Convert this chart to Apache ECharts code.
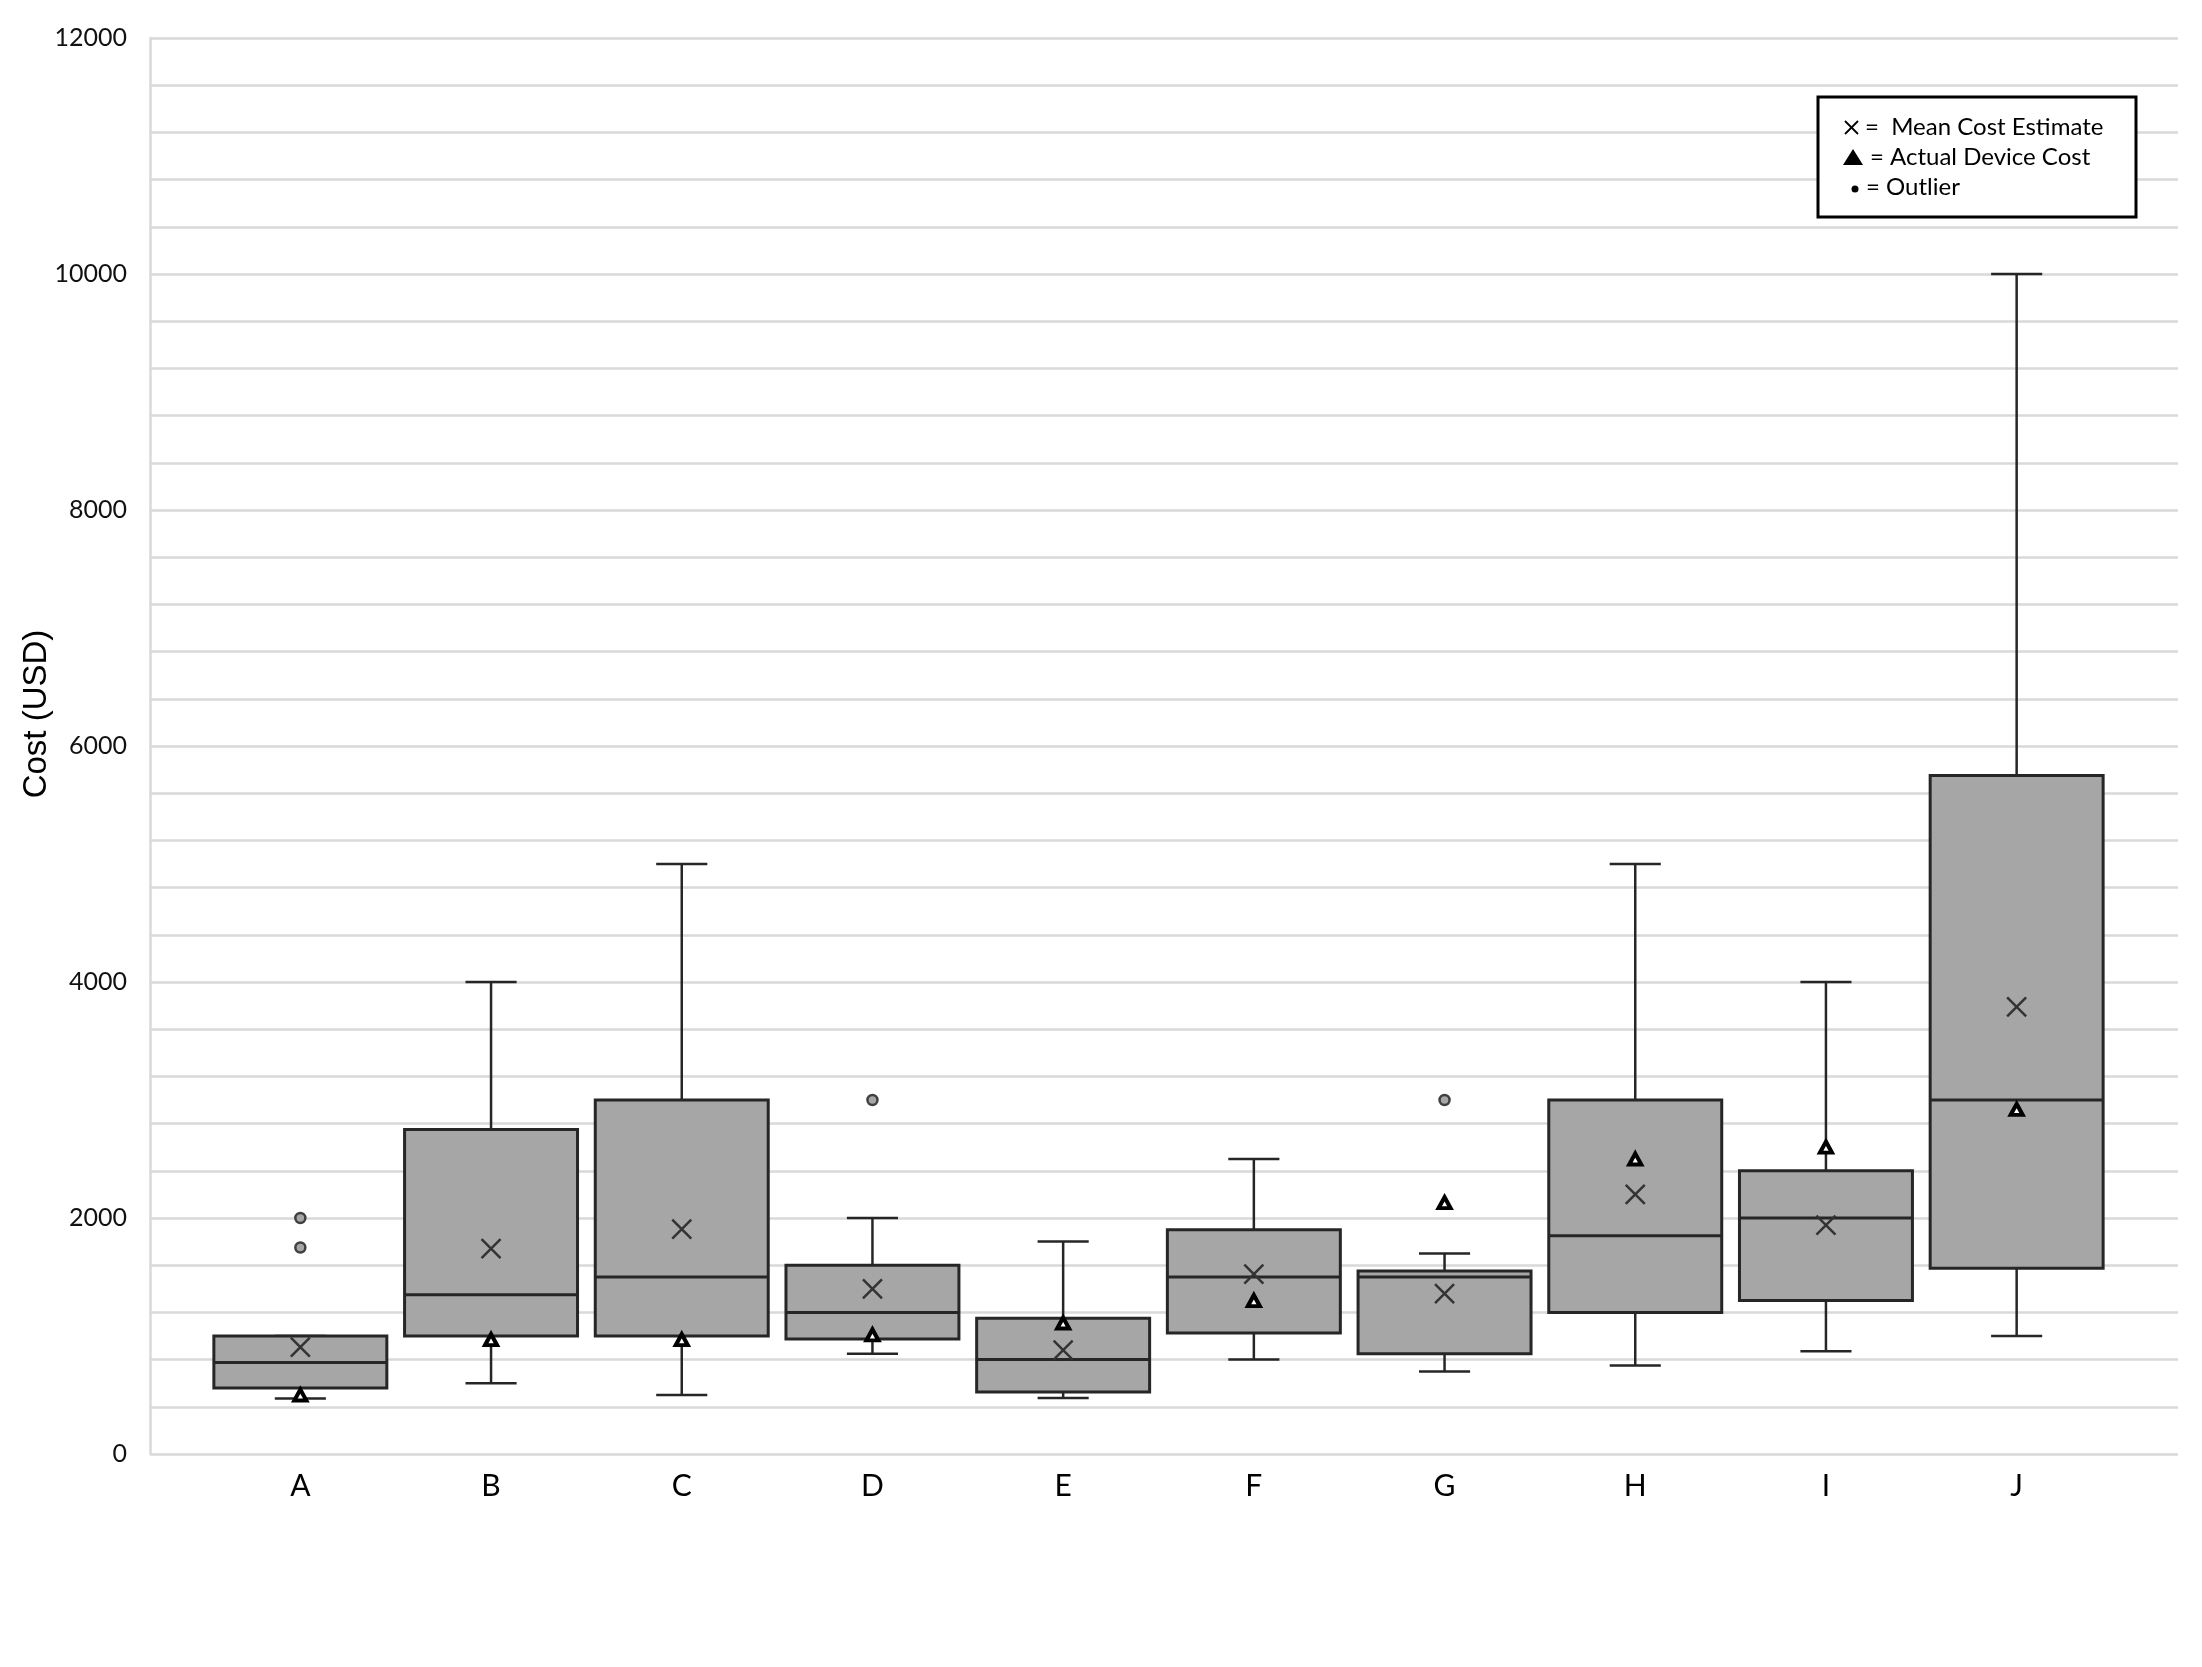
<!DOCTYPE html>
<html>
<head>
<meta charset="utf-8">
<script src="https://cdn.jsdelivr.net/npm/echarts@6/dist/echarts.min.js"></script>
<style>
html,body{margin:0;padding:0;background:#fff;}
#chart{width:2202px;height:1667px;}
</style>
</head>
<body>
<div id="chart"></div>
<script>
const categories = ['A','B','C','D','E','F','G','H','I','J'];
const whiskerLow  = [470, 600, 500, 850, 475, 800, 700, 750, 870, 1000];
const q1          = [560, 1000, 1000, 975, 525, 1025, 850, 1200, 1300, 1575];
const median      = [775, 1350, 1500, 1200, 800, 1500, 1500, 1850, 2000, 3000];
const q3          = [1000, 2750, 3000, 1600, 1150, 1900, 1550, 3000, 2400, 5750];
const whiskerHigh = [1000, 4000, 5000, 2000, 1800, 2500, 1700, 5000, 4000, 10000];
const means       = [905, 1740, 1905, 1400, 880, 1525, 1360, 2200, 1940, 3790];
const actualCost  = [500, 970, 970, 1010, 1110, 1300, 2130, 2500, 2600, 2920];
const outlierCats = ['A', 'A', 'D', 'G'];
const outlierVals = [2000, 1750, 3000, 3000];
const yTickLabels = [0, 2000, 4000, 6000, 8000, 10000, 12000];

const boxData = categories.map((c, i) => [i, whiskerLow[i], q1[i], median[i], q3[i], whiskerHigh[i]]);
const meanData = categories.map((c, i) => [c, means[i]]);
const actualData = categories.map((c, i) => [c, actualCost[i]]);
const outlierData = outlierCats.map((c, i) => [c, outlierVals[i]]);

const DARK = '#262626';
const GRID = '#d9d9d9';
const FONT = 'Lato, "Open Sans", sans-serif';

const chart = echarts.init(document.getElementById('chart'));
chart.setOption({
  animation: false,
  backgroundColor: '#fff',
  grid: [
    {left: 150, right: 24, top: 38, bottom: 213, containLabel: false},
    {left: 205, right: 90, top: 38, bottom: 213, containLabel: false}
  ],
  xAxis: [
    {gridIndex: 0, type: 'value', min: 0, max: 1, show: false},
    {gridIndex: 1, type: 'category', data: categories, boundaryGap: true,
     axisLine: {show: false}, axisTick: {show: false}, splitLine: {show: false},
     axisLabel: {color: '#000', fontSize: 30, fontFamily: FONT, margin: 17}}
  ],
  yAxis: [
    {gridIndex: 0, type: 'value', min: 0, max: 12000, interval: 400,
     axisLine: {show: true, lineStyle: {color: GRID, width: 2.5}},
     axisTick: {show: false},
     splitLine: {show: true, lineStyle: {color: GRID, width: 2.5}},
     axisLabel: {color: '#111', fontSize: 25, fontFamily: FONT, margin: 23,
       formatter: v => yTickLabels.indexOf(v) >= 0 ? String(v) : ''}},
    {gridIndex: 1, type: 'value', min: 0, max: 12000, show: false}
  ],
  series: [
    {
      type: 'custom',
      xAxisIndex: 1, yAxisIndex: 1,
      data: boxData,
      encode: {x: 0, y: [1, 2, 3, 4, 5]},
      renderItem: function (params, api) {
        const idx = api.value(0);
        const pMin = api.coord([idx, api.value(1)]);
        const pQ1 = api.coord([idx, api.value(2)]);
        const pMed = api.coord([idx, api.value(3)]);
        const pQ3 = api.coord([idx, api.value(4)]);
        const pMax = api.coord([idx, api.value(5)]);
        const band = api.size([1, 0])[0];
        const bw = band * 0.907;
        const cw = band * 0.268;
        const cx = pQ1[0];
        const ls = {stroke: DARK, lineWidth: 2.5};
        return {
          type: 'group',
          children: [
            {type: 'line', shape: {x1: cx, y1: pQ1[1], x2: cx, y2: pMin[1]}, style: ls},
            {type: 'line', shape: {x1: cx - cw / 2, y1: pMin[1], x2: cx + cw / 2, y2: pMin[1]}, style: ls},
            {type: 'line', shape: {x1: cx, y1: pQ3[1], x2: cx, y2: pMax[1]}, style: ls},
            {type: 'line', shape: {x1: cx - cw / 2, y1: pMax[1], x2: cx + cw / 2, y2: pMax[1]}, style: ls},
            {type: 'rect', shape: {x: cx - bw / 2, y: pQ3[1], width: bw, height: pQ1[1] - pQ3[1]},
             style: {fill: '#a6a6a6', stroke: DARK, lineWidth: 3}},
            {type: 'line', shape: {x1: cx - bw / 2, y1: pMed[1], x2: cx + bw / 2, y2: pMed[1]}, style: {stroke: DARK, lineWidth: 3}}
          ]
        };
      }
    },
    {
      type: 'scatter', xAxisIndex: 1, yAxisIndex: 1,
      data: outlierData,
      symbol: 'circle', symbolSize: 10,
      itemStyle: {color: '#a6a6a6', borderColor: '#404040', borderWidth: 2.5, opacity: 1}
    },
    {
      type: 'scatter', xAxisIndex: 1, yAxisIndex: 1,
      data: meanData,
      symbol: 'path://M0,0L10,10M10,0L0,10', symbolSize: 19,
      itemStyle: {color: 'rgba(0,0,0,0)', borderColor: '#333', borderWidth: 2.5, opacity: 1}
    },
    {
      type: 'scatter', xAxisIndex: 1, yAxisIndex: 1,
      data: actualData,
      symbol: 'triangle', symbolSize: [12, 11],
      itemStyle: {color: '#fff', borderColor: '#000', borderWidth: 4, opacity: 1}
    }
  ],
  graphic: [
    {type: 'rect', shape: {x: 1818, y: 97, width: 318, height: 120},
     style: {fill: '#fff', stroke: '#000', lineWidth: 3}, z: 10},
    {type: 'line', shape: {x1: 1845, y1: 121, x2: 1858, y2: 134}, style: {stroke: '#000', lineWidth: 1.8}, z: 11},
    {type: 'line', shape: {x1: 1858, y1: 121, x2: 1845, y2: 134}, style: {stroke: '#000', lineWidth: 1.8}, z: 11},
    {type: 'text', x: 1865, y: 127, style: {text: '=  Mean Cost Estimate', font: '24px ' + FONT, fill: '#000', textVerticalAlign: 'middle'}, z: 11},
    {type: 'polygon', shape: {points: [[1853, 149], [1863, 165], [1843, 165]]}, style: {fill: '#000'}, z: 11},
    {type: 'text', x: 1870, y: 157, style: {text: '= Actual Device Cost', font: '24px ' + FONT, fill: '#000', textVerticalAlign: 'middle'}, z: 11},
    {type: 'circle', shape: {cx: 1855, cy: 189, r: 3.5}, style: {fill: '#000'}, z: 11},
    {type: 'text', x: 1866, y: 187, style: {text: '= Outlier', font: '24px ' + FONT, fill: '#000', textVerticalAlign: 'middle'}, z: 11},
    {type: 'text', x: 37, y: 714, rotation: Math.PI / 2,
     style: {text: 'Cost (USD)', font: '33px "Liberation Sans", Arial, sans-serif', fill: '#000', textAlign: 'center', textVerticalAlign: 'middle'}}
  ]
});
</script>
</body>
</html>
